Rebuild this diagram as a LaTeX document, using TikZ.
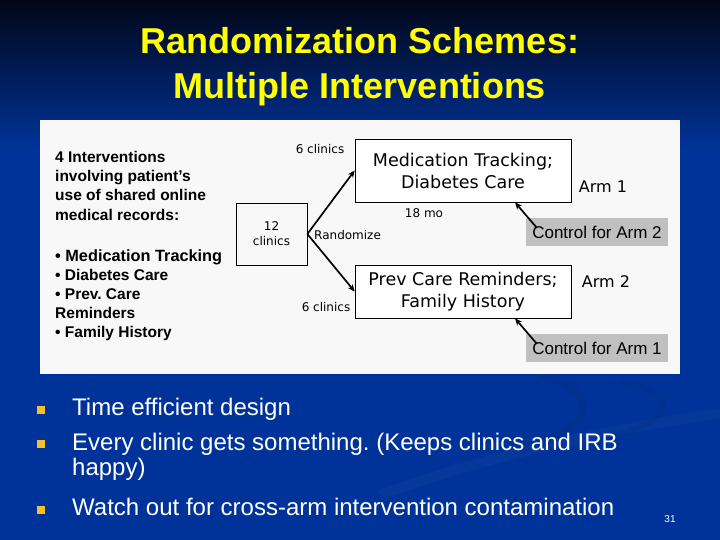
\documentclass[tikz,border=0pt]{standalone}
\usepackage{fontspec}
\setmainfont{Liberation Sans}
\newfontfamily\handfont{DejaVu Sans}
\usetikzlibrary{arrows.meta,positioning}
\definecolor{slideblue}{RGB}{0,51,153}
\definecolor{slidetop}{RGB}{2,6,24}
\definecolor{titleyellow}{RGB}{255,255,0}
\definecolor{bulletgold}{RGB}{240,196,40}
\definecolor{panel}{RGB}{248,248,248}
\definecolor{ctrlgray}{RGB}{192,192,192}
\frenchspacing

\begin{document}
\begin{tikzpicture}[
          x=1pt, y=-1pt,
          every node/.style={inner sep=0pt},
          arm/.style={draw, fill=white, line width=0.7pt, minimum width=216pt, align=center, font=\handfont\fontsize{17.5}{22}\selectfont},
          pool/.style={draw, line width=0.7pt, minimum width=71pt, minimum height=62pt, align=center, font=\handfont\fontsize{12}{15}\selectfont},
          note/.style={font=\handfont\fontsize{12}{14}\selectfont},
          armlabel/.style={font=\handfont\fontsize{16}{18}\selectfont},
          ctrl/.style={fill=ctrlgray, minimum width=142pt, minimum height=28pt, font=\fontsize{17}{19}\selectfont},
          arr/.style={-{Stealth[length=7pt,width=6pt]}, line width=1.7pt},
          sq/.style={fill=bulletgold, minimum size=8pt},
          point/.style={text=white, anchor=west, align=left, font=\fontsize{24}{25}\selectfont}
      ]
        \useasboundingbox (0,0) rectangle (720,540);
        % slide background
        \fill[slideblue] (0,0) rectangle (720,540);
        \shade[top color=slidetop, bottom color=slideblue] (0,0) rectangle (720,150);
        \begin{scope}
          \clip (0,0) rectangle (720,540);
          \draw[white, opacity=0.025, line width=10pt] (380,495) .. controls (520,445) and (640,425) .. (730,412);
          \draw[black, opacity=0.06, line width=8pt] (540,376) .. controls (600,392) and (600,425) .. (520,450);
          \draw[black, opacity=0.05, line width=6pt] (620,380) .. controls (680,395) and (680,420) .. (600,440);
        \end{scope}

        \node[text=titleyellow, align=center, font=\bfseries\fontsize{36}{45}\selectfont] (title) at (360,67) {Randomization Schemes:\\Multiple Interventions};

        \fill[panel] (40,120) rectangle (680,374);

        \node[anchor=north west, align=left, font=\bfseries\fontsize{15.5}{19.2}\selectfont] (intro) at (55,151) {4 Interventions\\involving patient’s\\use of shared online\\medical records:};
        \node[anchor=north west, align=left, font=\bfseries\fontsize{15.5}{19.2}\selectfont] (list) at (55,249) {{\fontsize{16.3}{19.2}\selectfont\textbullet{} Medication Tracking}\\\textbullet{} Diabetes Care\\\textbullet{} Prev. Care\\Reminders\\\textbullet{} Family History};

        \node[pool] (clinics) at (271.5,234) {12\\clinics};
        \node[arm, minimum height=63pt] (armone) at (463,170.5) {Medication Tracking;\\Diabetes Care};
        \node[arm, minimum height=53pt] (armtwo) at (463,291.5) {Prev Care Reminders;\\Family History};

        \draw[arr] (clinics.east) -- (armone.west);
        \draw[arr] (clinics.east) -- (armtwo.west);

        \node[note] (ctop) at (320,149) {6 clinics};
        \node[note] (cbot) at (326,307) {6 clinics};
        \node[note, anchor=west] (rand) at (314,235) {Randomize};
        \node[note] (dur) at (424,213) {18 mo};
        \node[armlabel] (lblone) at (603,187) {Arm 1};
        \node[armlabel] (lbltwo) at (606,282) {Arm 2};

        \node[ctrl] (ctla) at (597,232) {Control for Arm 2};
        \node[ctrl] (ctlb) at (597,348) {Control for Arm 1};
        \draw[arr] ([shift={(11,10)}]ctla.north west) -- ([xshift=52pt]armone.south);
        \draw[arr] ([shift={(11,10)}]ctlb.north west) -- ([xshift=52pt]armtwo.south);

        % take-home points
        \node[sq] (b1) at (41,410) {};
        \node[sq] (b2) at (41,444) {};
        \node[sq] (b3) at (41,510) {};
        \node[point] (p1) at (72,409) {Time efficient design};
        \node[point] (p2) at (72,456.5) {Every clinic gets something. (Keeps clinics and IRB\\happy)};
        \node[point] (p3) at (72,507) {Watch out for cross-arm intervention contamination};
        \node[text=white, font=\fontsize{10}{12}\selectfont] (page) at (670,519) {31};
      \end{tikzpicture}
\end{document}
